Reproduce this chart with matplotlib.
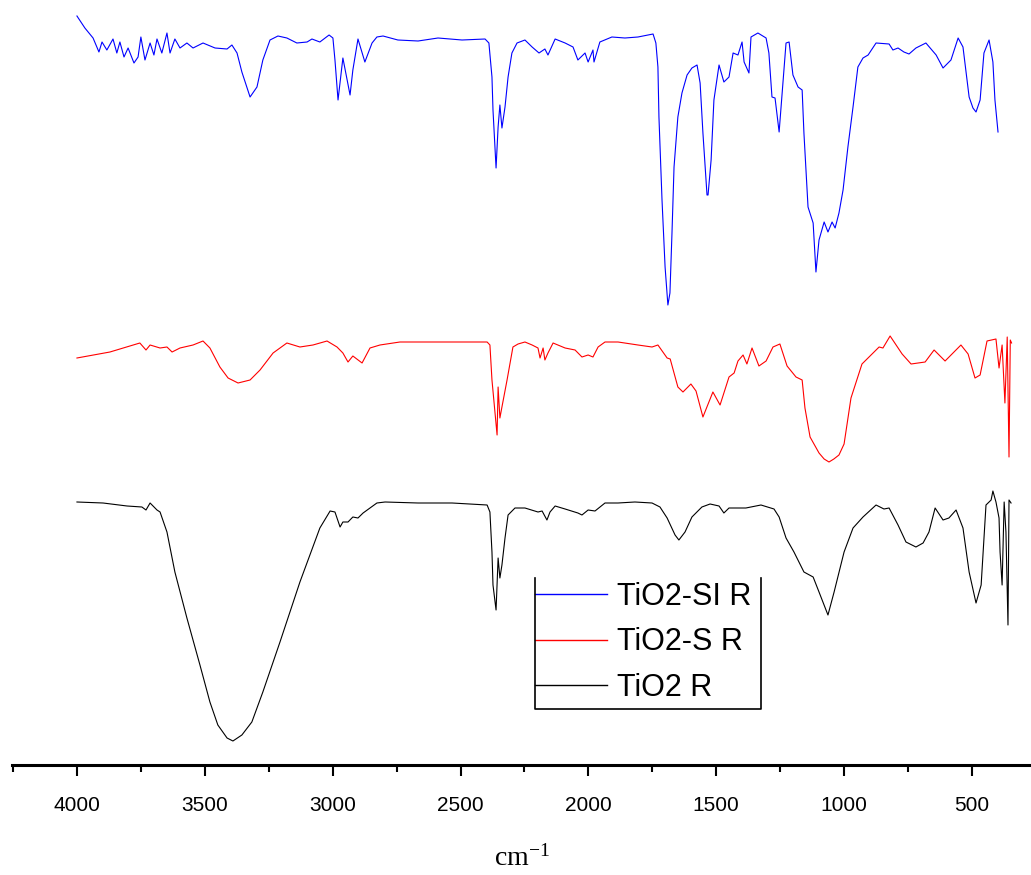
import numpy as np
import matplotlib
matplotlib.use("Agg")
import matplotlib.pyplot as plt
from matplotlib.lines import Line2D
from matplotlib.ticker import MultipleLocator

plt.rcParams['font.family'] = ['Liberation Sans', 'DejaVu Sans']
plt.rcParams['mathtext.fontset'] = 'custom'
plt.rcParams['mathtext.rm'] = 'Liberation Serif'
plt.rcParams['mathtext.it'] = 'Liberation Serif:italic'

# FTIR spectra, wavenumber (cm-1) and relative transmittance (arb. units)
wn_si = [4000, 3969, 3937, 3914, 3902, 3883, 3859, 3844, 3832, 3816, 3800, 3777, 3761, 3750,
         3734, 3714, 3699, 3687, 3668, 3648, 3636, 3617, 3597, 3570, 3546, 3507, 3460, 3413,
         3394, 3374, 3355, 3323, 3296, 3273, 3245, 3214, 3179, 3140, 3100, 3081, 3050, 3014,
         2999, 2991, 2979, 2960, 2932, 2921, 2901, 2874, 2846, 2827, 2803, 2745, 2666, 2588,
         2494, 2404, 2389, 2377, 2373, 2361, 2353, 2346, 2338, 2326, 2314, 2299, 2279, 2248,
         2220, 2193, 2170, 2158, 2130, 2091, 2060, 2041, 2013, 2001, 1982, 1978, 1955, 1908,
         1857, 1806, 1747, 1736, 1728, 1724, 1712, 1700, 1689, 1681, 1673, 1665, 1650, 1634,
         1614, 1595, 1575, 1563, 1552, 1536, 1532, 1520, 1509, 1489, 1470, 1450, 1434, 1415,
         1399, 1391, 1372, 1364, 1337, 1305, 1294, 1282, 1270, 1254, 1239, 1227, 1215, 1200,
         1180, 1164, 1157, 1141, 1121, 1110, 1098, 1078, 1063, 1047, 1035, 1020, 1004, 985,
         965, 946, 926, 906, 875, 824, 809, 789, 766, 746, 719, 680, 640, 613, 582, 554, 535,
         511, 496, 484, 468, 453, 433, 418, 410, 398]
t_si = [74.9, 73.7, 72.7, 71.3, 72.3, 71.5, 72.6, 71.2, 72.3, 70.8, 71.7, 70.2, 70.8, 72.8,
        70.5, 72.2, 71.0, 72.6, 71.2, 73.2, 71.2, 72.6, 71.7, 72.2, 71.7, 72.2, 71.7, 71.6,
        72.0, 71.2, 69.3, 66.8, 67.8, 70.5, 72.5, 72.9, 72.7, 72.2, 72.3, 72.6, 72.3, 73.0,
        72.7, 70.5, 66.5, 70.7, 67.0, 69.5, 72.6, 70.3, 72.2, 72.8, 72.9, 72.5, 72.4, 72.7,
        72.5, 72.6, 72.2, 68.8, 65.5, 59.7, 63.8, 66.0, 63.7, 65.8, 68.8, 71.2, 72.2, 72.5,
        71.8, 71.2, 71.6, 71.0, 72.6, 72.2, 71.8, 70.5, 71.2, 70.3, 71.5, 70.3, 72.3, 72.8,
        72.7, 72.8, 73.1, 72.2, 69.8, 64.8, 56.5, 49.8, 46.0, 47.2, 53.2, 59.8, 64.8, 67.2,
        69.0, 69.7, 70.0, 68.2, 63.2, 57.0, 57.0, 60.5, 66.5, 70.0, 68.3, 68.8, 71.2, 71.0,
        72.3, 70.3, 69.2, 72.8, 73.2, 72.7, 71.2, 66.8, 66.7, 63.3, 68.2, 72.2, 72.3, 69.0,
        67.8, 67.5, 63.2, 55.8, 54.2, 49.3, 52.5, 54.3, 53.3, 54.3, 53.7, 55.2, 57.5, 61.8,
        65.8, 69.8, 70.7, 71.0, 72.2, 72.1, 71.5, 71.7, 71.3, 71.1, 71.7, 72.2, 71.0, 69.7,
        70.5, 72.7, 71.8, 66.8, 65.7, 65.3, 66.5, 71.2, 72.5, 70.3, 66.5, 63.3]

wn_s = [4000, 3871, 3754, 3730, 3714, 3675, 3648, 3628, 3597, 3546, 3507, 3480, 3441, 3409,
        3370, 3323, 3284, 3233, 3179, 3128, 3077, 3022, 2983, 2960, 2940, 2921, 2885, 2854,
        2815, 2737, 2541, 2396, 2385, 2377, 2357, 2353, 2346, 2338, 2318, 2295, 2275, 2248,
        2220, 2197, 2189, 2177, 2170, 2158, 2138, 2091, 2052, 2025, 2001, 1982, 1962, 1935,
        1884, 1806, 1751, 1728, 1692, 1680, 1650, 1630, 1599, 1579, 1552, 1513, 1485, 1450,
        1430, 1415, 1395, 1380, 1360, 1333, 1305, 1278, 1251, 1223, 1188, 1164, 1153, 1133,
        1098, 1078, 1059, 1040, 1020, 1000, 973, 930, 863, 848, 820, 773, 738, 683, 648, 605,
        543, 515, 488, 468, 441, 406, 394, 382, 371, 362, 355, 350, 345]
t_s = [40.7, 41.3, 42.2, 41.5, 42.0, 41.7, 41.8, 41.3, 41.7, 42.0, 42.4, 41.7, 39.8, 38.7,
       38.2, 38.5, 39.5, 41.2, 42.2, 41.8, 42.0, 42.4, 41.8, 41.2, 40.3, 40.9, 40.2, 41.7,
       42.0, 42.3, 42.3, 42.3, 42.0, 38.5, 33.0, 37.8, 34.7, 35.8, 38.5, 41.8, 42.1, 42.3,
       42.0, 41.7, 40.7, 41.7, 40.5, 41.2, 42.2, 41.7, 41.5, 40.8, 41.0, 40.8, 41.8, 42.3,
       42.3, 42.0, 41.8, 42.0, 40.7, 40.6, 37.8, 37.3, 38.1, 37.4, 34.8, 37.3, 36.0, 38.8,
       39.2, 40.4, 41.0, 40.1, 41.7, 39.9, 40.4, 41.8, 42.1, 39.9, 38.8, 38.5, 35.7, 32.8,
       31.2, 30.6, 30.3, 30.6, 31.0, 32.1, 36.7, 40.1, 41.8, 41.7, 42.9, 41.1, 40.1, 40.3,
       41.5, 40.4, 42.0, 41.1, 38.7, 39.0, 42.4, 42.6, 39.7, 42.0, 36.2, 42.8, 30.8, 42.5, 42.2]

wn_ti = [4000, 3898, 3804, 3746, 3730, 3714, 3687, 3675, 3648, 3617, 3570, 3519, 3480, 3449,
         3413, 3390, 3355, 3316, 3273, 3206, 3128, 3050, 3010, 2991, 2971, 2960, 2940, 2921,
         2901, 2881, 2854, 2827, 2795, 2666, 2533, 2396, 2385, 2377, 2373, 2361, 2353, 2346,
         2338, 2326, 2314, 2287, 2248, 2197, 2181, 2162, 2150, 2130, 2091, 2041, 2025, 2001,
         1974, 1935, 1884, 1818, 1751, 1720, 1692, 1661, 1646, 1622, 1595, 1556, 1524, 1489,
         1470, 1450, 1384, 1325, 1274, 1254, 1227, 1196, 1157, 1121, 1098, 1063, 1039, 1000,
         965, 926, 875, 844, 824, 789, 758, 719, 691, 668, 644, 613, 590, 562, 535, 511, 484,
         464, 445, 425, 418, 406, 394, 390, 382, 374, 367, 359, 355, 347]
t_ti = [26.3, 26.2, 25.9, 25.8, 25.5, 26.2, 25.5, 25.3, 23.3, 19.3, 14.7, 10.0, 6.3, 4.0,
        2.7, 2.4, 3.0, 4.3, 7.3, 12.3, 18.3, 23.7, 25.4, 25.3, 23.8, 24.3, 24.3, 24.8,
        24.7, 25.2, 25.7, 26.2, 26.3, 26.2, 26.2, 26.0, 25.3, 21.3, 18.0, 15.5, 20.7, 18.7,
        20.0, 22.7, 25.0, 25.7, 25.7, 25.3, 25.4, 24.5, 25.3, 25.9, 25.6, 25.2, 25.0, 25.5,
        25.4, 26.2, 26.2, 26.3, 26.2, 25.8, 24.7, 23.0, 22.5, 23.3, 24.8, 25.8, 26.1, 25.9,
        25.2, 25.7, 25.7, 26.0, 25.6, 24.8, 22.7, 21.3, 19.3, 18.8, 17.3, 15.0, 17.3, 21.3,
        23.7, 24.8, 26.0, 25.6, 25.7, 24.0, 22.3, 21.8, 22.2, 23.3, 25.7, 24.5, 24.7, 25.5,
        23.7, 19.3, 16.2, 18.0, 26.0, 26.5, 27.4, 26.3, 24.7, 21.3, 18.0, 26.3, 23.3, 14.0,
        26.5, 26.2]

labels = ["TiO2-SI R", "TiO2-S R", "TiO2 R"]
colors = ["#0000ff", "#ff0000", "#000000"]

W, H = 1031, 875
fig = plt.figure(figsize=(W / 100, H / 100), dpi=100)
ax = fig.add_axes([12 / W, 110 / H, 1019 / W, 765 / H])

for wn, t, c in zip([wn_si, wn_s, wn_ti], [t_si, t_s, t_ti], colors):
    ax.plot(wn, t, color=c, lw=0.8)

ax.set_xlim(4254, 269)
ax.set_ylim(0, 76.5)
for s in ["left", "right", "top"]:
    ax.spines[s].set_visible(False)
ax.spines["bottom"].set_linewidth(2.2)
ax.set_yticks([])
ax.xaxis.set_major_locator(MultipleLocator(500))
ax.xaxis.set_minor_locator(MultipleLocator(250))
ax.set_xticks(np.arange(500, 4001, 500))
ax.tick_params(axis="x", which="major", length=8, width=1.5, labelsize=15, pad=14)
ax.tick_params(axis="x", which="minor", length=5, width=1.5)
ax.set_xlabel("cm$^{-1}$", fontsize=20, family="Liberation Serif", labelpad=22)

handles = [Line2D([0], [0], color=c, lw=1.0) for c in colors]
ax.legend(handles, labels, loc="upper left", bbox_to_anchor=(535 / W, 1 - 582 / H),
          bbox_transform=fig.transFigure, frameon=False, fontsize=22,
          handlelength=2.35, handletextpad=0.33, borderpad=0, borderaxespad=0,
          labelspacing=0.5)
# open-topped legend box
fig.add_artist(Line2D([535 / W, 535 / W, 761 / W, 761 / W],
                      [1 - 578 / H, 1 - 709 / H, 1 - 709 / H, 1 - 578 / H],
                      color="black", lw=1.2))

fig.savefig("out.png", dpi=100)
